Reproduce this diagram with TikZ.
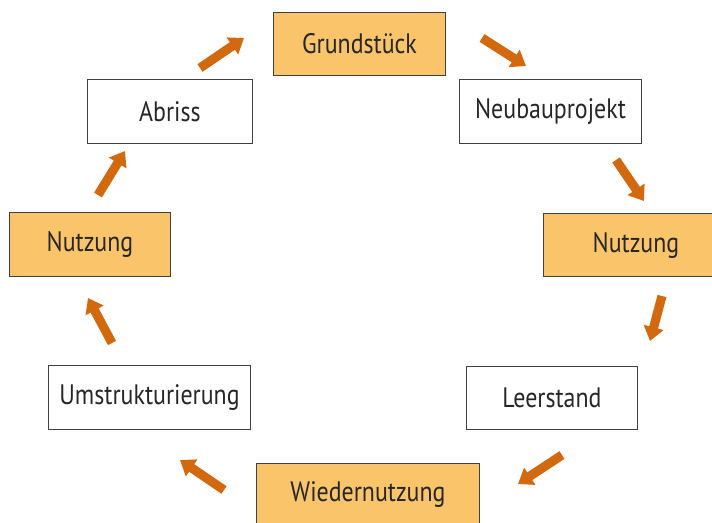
\documentclass[tikz,border=0pt]{standalone}
\usepackage{fontspec}
\setmainfont{PT Sans}[FakeStretch=0.85]
\usepackage{xcolor}
\usetikzlibrary{positioning,arrows.meta}

\definecolor{boxorange}{HTML}{FAC56A}
\definecolor{arroworange}{HTML}{D2690F}

\tikzset{
    stage/.style={draw=black!75, line width=0.7pt, minimum height=45pt, font=\fontsize{20}{24}\selectfont, text=black!85, inner sep=0pt},
    keystage/.style={stage, fill=boxorange},
    flow/.style={arroworange, line width=6.5pt, -{Triangle[width=14pt,length=10pt]}}
}

\begin{document}
\begin{tikzpicture}[x=0.025cm, y=-0.025cm]
    % Frame
    \useasboundingbox (0,0) rectangle (712,522);

    % Stages
    \node[keystage, minimum width=123pt] (grund) at (359.5,44) {Grundstück};
    \node[stage, minimum width=130pt] (neubau) at (550.5,111.5) {Neubauprojekt};
    \node[stage, minimum width=118pt] (abriss) at (170,111.5) {Abriss};
    \node[keystage, minimum width=131pt] (nutzright) at (636,245) {Nutzung};
    \node[keystage, minimum width=115pt] (nutzleft) at (90,244.5) {Nutzung};
    \node[stage, minimum width=144pt] (umbau) at (149.5,397.5) {Umstrukturierung};
    \node[stage, minimum width=122pt] (leer) at (552,398) {Leerstand};
    \node[keystage, minimum width=159pt] (wieder) at (368,495) {Wiedernutzung};

    % Arrow ends
    \coordinate (a1) at (200,68);  \coordinate (b1) at (244,38);
    \coordinate (a2) at (482,38);  \coordinate (b2) at (526,66);
    \coordinate (a3) at (616,160); \coordinate (b3) at (644,201);
    \coordinate (a4) at (662,296); \coordinate (b4) at (650,341);
    \coordinate (a5) at (562,455); \coordinate (b5) at (518,484);
    \coordinate (a6) at (224,490); \coordinate (b6) at (180,460);
    \coordinate (a7) at (112,343); \coordinate (b7) at (88,298);
    \coordinate (a8) at (98,195);  \coordinate (b8) at (125,151);

    % Cycle arrows
    \foreach \i in {1,...,8} \draw[flow] (a\i) -- (b\i);
\end{tikzpicture}
\end{document}
